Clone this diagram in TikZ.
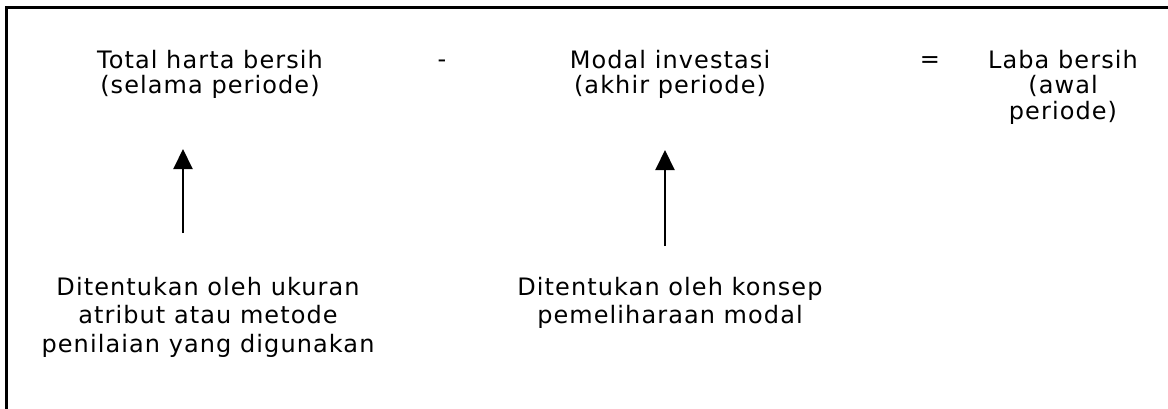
\documentclass[tikz,border=0pt]{standalone}
\usepackage{fontspec}
\setmainfont[LetterSpace=4.5]{DejaVu Sans}
\usepackage{tikz}
\usetikzlibrary{arrows.meta}
\usetikzlibrary{positioning}

\tikzset{
  teks/.style={align=center,inner sep=0pt,font=\fontsize{24}{25.5}\selectfont},
  ket/.style={align=center,inner sep=0pt,font=\fontsize{24}{28.5}\selectfont},
  panah/.style={line width=2pt,-{Triangle[width=19pt,length=20pt]}}
}

\begin{document}
\begin{tikzpicture}[x=1pt,y=1pt]
    \useasboundingbox (0,0) rectangle (1168,408);
    \clip (0,0) rectangle (1168,408);
    % frame
    \draw[line width=2.5pt] (6.5,400.5) rectangle (1190,-20);

    \begin{scope}[every node/.style={teks}]
      \node[anchor=north] (total) at (210,358) {Total harta bersih\\(selama periode)};
      \node[anchor=base] (minus) at (442,340) {-};
      \node[anchor=north] (modal) at (670,358) {Modal investasi\\(akhir periode)};
      \node[anchor=base] (sama) at (930,340) {=};
      \node[anchor=north] (laba) at (1063,358) {Laba bersih\\(awal\\periode)};
    \end{scope}

    \begin{scope}[every node/.style={ket}]
      \node[anchor=north] (ukuran) at (208,131) {Ditentukan oleh ukuran\\atribut atau metode\\penilaian yang digunakan};
      \node[anchor=north] (konsep) at (670,131) {Ditentukan oleh konsep\\pemeliharaan modal};
    \end{scope}

    \coordinate (u1) at (183,175);
    \coordinate (u2) at (183,259);
    \coordinate (k1) at (665,162);
    \coordinate (k2) at (665,258);
    \draw[panah] (u1) -- (u2);
    \draw[panah] (k1) -- (k2);
\end{tikzpicture}
\end{document}
